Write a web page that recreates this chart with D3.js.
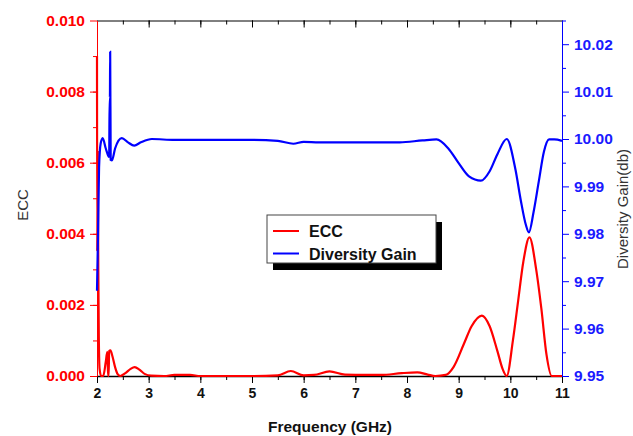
<!DOCTYPE html>
<html>
<head>
<meta charset="utf-8">
<script src="https://d3js.org/d3.v7.min.js"></script>
<style>
  body { margin: 0; background: #fff; }
  svg { display: block; }
</style>
</head>
<body>
<div id="chart"></div>
<script>
// values
var freqEcc = [2.00, 2.005, 2.015, 2.025, 2.035, 2.05, 2.08, 2.12, 2.17, 2.20, 2.215, 2.225, 2.235, 2.26, 2.30, 2.35, 2.40, 2.45,
    2.55, 2.65, 2.73, 2.82, 2.92, 3.05, 3.3, 3.5, 3.8, 4.0, 4.5, 5.0, 5.5, 5.75, 6.0, 6.2, 6.5, 6.8, 7.2, 7.5, 7.9, 8.2, 8.4,
    8.55, 8.75, 8.9, 9.1, 9.25, 9.45, 9.6, 9.75, 9.85, 9.93, 10.05, 10.15, 10.25, 10.37, 10.5, 10.6, 10.7, 10.8, 11.0]
var ecc = [0.0090, 0.0035, 0.0063, 0.0030, 0.0011, 0.0002, 0.0, 0.0, 0.0004, 0.00068, 0.0, 0.0, 0.0007, 0.00072, 0.00055, 0.00025, 0.00005, 0.0,
    0.00008, 0.0002, 0.00025, 0.00018, 0.00006, 0.00001, 0.0, 0.00003, 0.00003, 0.0, 0.0, 0.0, 0.00002, 0.00014, 0.00002, 0.00003, 0.00013, 0.00004, 0.00003, 0.00003, 0.00008, 0.0001, 0.00004,
    0.0, 0.00003, 0.00025, 0.0009, 0.0014, 0.0017, 0.0014, 0.0007, 0.0002, 0.0, 0.0010, 0.0021, 0.0032, 0.0039, 0.0030, 0.0019, 0.0006, 0.0, 0.0]

var freqDg = [2.00, 2.02, 2.04, 2.07, 2.11, 2.17, 2.235, 2.245, 2.25, 2.255, 2.265, 2.29, 2.35, 2.48, 2.6, 2.72, 2.85, 3.06, 3.5, 4.0, 5.0,
    5.5, 5.8, 6.0, 6.3, 7.0, 7.86, 8.3, 8.57, 8.8, 9.0, 9.2, 9.43, 9.6, 9.75, 9.93, 10.1, 10.2, 10.3, 10.36, 10.45, 10.55, 10.65, 10.75, 10.85, 11.0]
var dg = [9.968, 9.980, 9.994, 9.999, 10.0002, 9.998, 9.9962, 10.0088, 10.0088, 10.0184, 9.9956, 9.9955, 9.998, 10.0002, 9.9993, 9.9986, 9.9993, 10.0, 9.9998, 9.9998, 9.9998,
    9.9996, 9.9990, 9.9994, 9.9993, 9.9993, 9.9993, 9.9997, 9.9999, 9.998, 9.9949, 9.9921, 9.9912, 9.9932, 9.9968, 10.0, 9.9935, 9.9872, 9.9819, 9.9803, 9.9846, 9.991, 9.9973, 9.9999, 9.9999, 9.9996]

var xTicks = [2, 3, 4, 5, 6, 7, 8, 9, 10, 11]
var eccTicks = [0.000, 0.002, 0.004, 0.006, 0.008, 0.010]
var dgTicks = [9.95, 9.96, 9.97, 9.98, 9.99, 10.00, 10.01, 10.02]

const width = 633, height = 436
const margin = { left: 97, right: 71, top: 20.5, bottom: 60 }
const font = "'Liberation Sans', Arial, sans-serif"

const svg = d3.select("#chart")
    .append("svg")
        .attr("width", width)
        .attr("height", height)

const x = d3.scaleLinear().domain([2, 11]).range([margin.left, width - margin.right])
const yE = d3.scaleLinear().domain([0, 0.010]).range([height - margin.bottom, margin.top])
const yD = d3.scaleLinear().domain([9.95, 10.025]).range([height - margin.bottom, margin.top])

const bottom = height - margin.bottom
const right = width - margin.right

// minor ticks
function minor(step, a, b) {
    var out = []
    for (let v = a; v <= b + 1e-9; v += step) out.push(+v.toFixed(4))
    return out
}

// bottom axis
svg.append("g")
    .attr("transform", `translate(0, ${bottom})`)
    .call(d3.axisBottom(x).tickValues(minor(0.5, 2.5, 10.5)).tickSize(4).tickFormat(""))
    .call(g => g.select(".domain").remove())
svg.append("g")
    .attr("transform", `translate(0, ${bottom})`)
    .call(d3.axisBottom(x).tickValues(xTicks).tickSize(7).tickSizeOuter(0).tickPadding(5).tickFormat(d3.format("d")))
    .call(g => g.selectAll("text").attr("font-size", 14).attr("font-weight", "bold").attr("font-family", font).attr("fill", "#111"))
    .call(g => g.select(".domain").attr("stroke-width", 1.3))

// top axis, ticks pointing in
svg.append("g")
    .attr("transform", `translate(0, ${margin.top})`)
    .call(d3.axisBottom(x).tickValues(minor(0.5, 2.5, 10.5)).tickSize(4).tickFormat(""))
    .call(g => g.select(".domain").remove())
svg.append("g")
    .attr("transform", `translate(0, ${margin.top})`)
    .call(d3.axisBottom(x).tickValues(xTicks).tickSize(7).tickSizeOuter(0).tickFormat(""))

// left axis (ECC)
svg.append("g")
    .attr("transform", `translate(${margin.left}, 0)`)
    .call(d3.axisLeft(yE).tickValues(minor(0.001, 0.001, 0.009)).tickSize(4).tickFormat(""))
    .call(g => g.select(".domain").remove())
    .call(g => g.selectAll("line").attr("stroke", "#ff0000"))
svg.append("g")
    .attr("transform", `translate(${margin.left}, 0)`)
    .call(d3.axisLeft(yE).tickValues(eccTicks).tickSize(7).tickSizeOuter(0).tickPadding(5).tickFormat(d3.format(".3f")))
    .call(g => g.selectAll("line").attr("stroke", "#ff0000"))
    .call(g => g.select(".domain").attr("stroke", "#ff0000"))
    .call(g => g.selectAll("text").attr("font-size", 15.5).attr("font-weight", "bold").attr("font-family", font).attr("fill", "#ff0000"))

// right axis (Diversity Gain)
svg.append("g")
    .attr("transform", `translate(${right}, 0)`)
    .call(d3.axisRight(yD).tickValues(minor(0.01, 9.955, 10.025)).tickSize(4).tickFormat(""))
    .call(g => g.select(".domain").remove())
    .call(g => g.selectAll("line").attr("stroke", "#0000ff"))
svg.append("g")
    .attr("transform", `translate(${right}, 0)`)
    .call(d3.axisRight(yD).tickValues(dgTicks).tickSize(7).tickSizeOuter(0).tickPadding(5).tickFormat(d3.format(".2f")))
    .call(g => g.selectAll("line").attr("stroke", "#0000ff"))
    .call(g => g.select(".domain").attr("stroke", "#0000ff"))
    .call(g => g.selectAll("text").attr("font-size", 15.5).attr("font-weight", "bold").attr("font-family", font).attr("fill", "#1a1aff"))

// lines
const lineE = d3.line().x((d, i) => x(freqEcc[i])).y(d => yE(d)).curve(d3.curveMonotoneX)
const lineD = d3.line().x((d, i) => x(freqDg[i])).y(d => yD(d)).curve(d3.curveMonotoneX)

svg.append("path")
    .datum(ecc)
    .attr("fill", "none")
    .attr("stroke", "#ff0000")
    .attr("stroke-width", 2.2)
    .attr("d", lineE)

svg.append("path")
    .datum(dg)
    .attr("fill", "none")
    .attr("stroke", "#0000ff")
    .attr("stroke-width", 2.2)
    .attr("d", lineD)

// axis titles
svg.append("text")
    .attr("transform", `translate(28, 205) rotate(-90)`)
    .attr("text-anchor", "middle")
    .attr("font-family", font)
    .attr("font-size", 15)
    .attr("fill", "#333")
    .text("ECC")

svg.append("text")
    .attr("transform", `translate(628, 209) rotate(-90)`)
    .attr("text-anchor", "middle")
    .attr("font-family", font)
    .attr("font-size", 15)
    .attr("fill", "#333")
    .text("Diversity Gain(db)")

svg.append("text")
    .attr("x", 330)
    .attr("y", 432)
    .attr("text-anchor", "middle")
    .attr("font-family", font)
    .attr("font-size", 15.5)
    .attr("font-weight", "bold")
    .attr("fill", "#111")
    .text("Frequency (GHz)")

// legend
const legend = svg.append("g").attr("transform", "translate(267, 215)")
legend.append("rect")
    .attr("x", 6).attr("y", 7).attr("width", 169).attr("height", 48)
    .attr("fill", "#000")
legend.append("rect")
    .attr("x", 0).attr("y", 0).attr("width", 169).attr("height", 48)
    .attr("fill", "#fff").attr("stroke", "#444").attr("stroke-width", 1)

var legendItems = [{ name: "ECC", color: "#ff0000" }, { name: "Diversity Gain", color: "#0000ff" }]
legendItems.forEach((d, i) => {
    const yy = 16 + i * 22.5
    legend.append("line")
        .attr("x1", 6).attr("x2", 32).attr("y1", yy).attr("y2", yy)
        .attr("stroke", d.color).attr("stroke-width", 2)
    legend.append("text")
        .attr("x", 42).attr("y", yy + 6)
        .attr("font-family", font)
        .attr("font-size", 16)
        .attr("font-weight", "bold")
        .attr("fill", "#111")
        .text(d.name)
})
</script>
</body>
</html>
